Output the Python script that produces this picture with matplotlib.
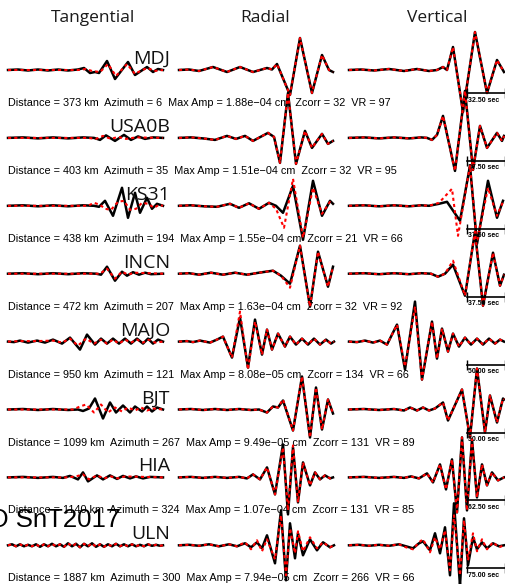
import matplotlib
matplotlib.use('Agg')
import matplotlib.pyplot as plt

# Station info (one entry per row)
stations = ['MDJ', 'USA0B', 'KS31', 'INCN', 'MAJO', 'BJT', 'HIA', 'ULN']
distance_km = [373, 403, 438, 472, 950, 1099, 1140, 1887]
azimuth = [6, 35, 194, 207, 121, 267, 324, 300]
max_amp = ['1.88e\u221204', '1.51e\u221204', '1.55e\u221204', '1.63e\u221204',
           '8.08e\u221205', '9.49e\u221205', '1.07e\u221204', '7.94e\u221205']
zcorr = [32, 32, 21, 32, 134, 131, 131, 266]
vr = [97, 95, 66, 92, 66, 89, 85, 66]
bar_sec = ['32.50', '37.50', '37.50', '37.50', '50.00', '50.00', '62.50', '75.00']
components = ['Tangential', 'Radial', 'Vertical']

# Waveforms: (time sample, amplitude).
mdj_t_obs = [(0, 0), (10, 0.5), (20, -0.5), (30, 0.5), (40, -0.5), (50, 0.5), (60, -0.5), (70, 0.5),
             (76, 2), (82, -3), (87, -2), (91, -3), (99, 9), (107, -9), (120, 8), (127, -5), (133, -1),
             (139, 3), (145, -2), (150, 1), (155, 0)]
mdj_t_syn = [(0, 0), (70, 0), (78, 1), (84, -1), (92, -2), (100, 6), (108, -6), (119, 6), (127, -4),
             (134, 0), (140, 2), (146, -1), (155, 0)]
mdj_r_obs = [(0, 0), (10, 0.5), (20, -1), (34, 3), (48, -2), (61, 3), (74, -2), (88, 2), (93, 0.5),
             (98, 6), (111, -25), (121, 32), (133, -23), (143, 15), (150, 0), (154, -2)]
mdj_r_syn = mdj_r_obs
mdj_v_obs = [(0, 0), (12, 0.5), (25, -0.5), (40, 1), (55, -1), (68, 1), (80, -1), (88, 0), (94, 3),
             (98, 0), (104, 23), (114, -42), (126, 38), (138, -23), (148, 10), (155, -2)]
mdj_v_syn = mdj_v_obs

usa_t_obs = [(0, 0), (15, 0.5), (30, -0.5), (45, 0.5), (60, -0.5), (75, 0.5), (86, 0), (92, -2),
             (98, 2.5), (107, -3), (116, 3), (123, -2), (130, 1.5), (137, -1), (145, 0.5), (155, 0)]
usa_t_syn = [(0, 0), (80, 0), (88, -1), (95, 2), (103, -1), (110, 1), (118, -1), (128, 0.5), (155, 0)]
usa_r_obs = [(0, 0), (12, 0.5), (24, -0.5), (36, -2), (48, 2), (57, -1), (66, 2), (74, -3), (89, 5),
             (95, 1), (101, -25), (109, 45), (117, -26), (126, 7), (133, -10), (143, 4), (149, -6),
             (154, -3)]
usa_r_syn = usa_r_obs
usa_v_obs = [(0, 0), (15, 0.5), (30, -0.5), (45, 0.5), (60, -0.5), (72, 0.5), (78, 0), (83, -2),
             (88, 3), (94, 22), (106, -33), (116, 47), (124, -32), (131, 12), (138, -10), (148, 5),
             (153, -3), (155, 2)]
usa_v_syn = usa_v_obs

ks_t_obs = [(0, 0), (15, 0.5), (30, -0.5), (45, 0.5), (60, -0.5), (75, 0.5), (86, 0), (91, -1),
            (97, 5), (105, -10), (114, 18), (120, -12), (127, 13), (132, -7), (139, 8), (144, -3),
            (149, 2), (155, 0)]
ks_t_syn = [(0, 0), (80, 0), (86, 3), (92, 1), (97, -3), (103, -4), (110, 4), (116, 5), (122, -4),
            (128, -3), (134, 3), (140, 2), (146, -2), (151, 1), (155, 0)]
ks_r_obs = [(0, 0), (12, 0.5), (25, -0.5), (38, -1), (51, 2), (60, -2), (70, 2.5), (80, -3), (90, 3),
            (97, 0), (104, -7), (114, 20), (124, -34), (134, 25), (143, -10), (151, 5), (154, 2)]
ks_r_syn = [(0, 0), (12, 0.5), (25, -0.5), (38, -1), (51, 2), (60, -2), (70, 2.5), (80, -3), (90, 3),
            (97, -3), (105, -22), (114, 27), (124, -32), (134, 18), (143, -8), (151, 4), (154, 2)]
ks_v_obs = [(0, 0), (15, 0.5), (30, -0.5), (45, 0.5), (60, -0.5), (72, 0.5), (80, 0), (90, 2),
            (98, 4), (111, -15), (121, 40), (128, -38), (139, 25), (148, -12), (154, 5)]
ks_v_syn = [(0, 0), (15, 0.5), (30, -0.5), (45, 0.5), (60, -0.5), (72, 0.5), (80, 0), (90, 3),
            (103, 17), (109, -30), (121, 40), (128, -36), (139, 18), (148, -10), (154, 4)]

incn_t_obs = [(0, 0), (15, 0.5), (30, -0.5), (45, 0.5), (60, -0.5), (75, 0.5), (88, 0), (93, -1),
              (99, 7), (107, -7), (114, 2), (119, -2), (125, 1.5), (131, -1), (137, 1), (143, -0.5),
              (155, 0)]
incn_t_syn = [(0, 0), (85, 0), (92, 0), (99, 5), (107, -5), (114, 2), (120, -1), (126, 1), (155, 0)]
incn_r_obs = [(0, 0), (10, 0.5), (20, -1), (32, 1), (44, -1), (56, 1), (68, -1), (80, 1), (94, 3),
              (102, -2), (111, -10), (121, 28), (131, -33), (139, 22), (149, -13), (154, 7)]
incn_r_syn = [(0, 0), (10, 0.5), (20, -1), (32, 1), (44, -1), (56, 1), (68, -1), (80, 1), (94, 3),
              (102, -2), (111, -14), (121, 28), (131, -33), (139, 22), (149, -13), (154, 7)]
incn_v_obs = [(0, 0), (15, 0.5), (30, -0.5), (45, 0.5), (60, -0.5), (72, 0.5), (82, 0), (89, -3),
              (96, 0), (104, 9), (116, -22), (126, 42), (134, -32), (144, 21), (151, -12), (155, -1)]
incn_v_syn = [(0, 0), (15, 0.5), (30, -0.5), (45, 0.5), (60, -0.5), (72, 0.5), (82, 0), (89, -3),
              (96, 0), (104, 13), (116, -22), (126, 42), (134, -32), (144, 21), (151, -12), (155, -1)]

majo_t_obs = [(0, 0), (6, -0.5), (12, 1), (20, -1), (29, 1), (37, -1), (45, 2), (54, -2), (62, 4),
              (72, -8), (79, 7), (87, -3), (93, 3), (99, -2), (105, 3), (111, -2), (117, 3), (123, -2),
              (129, 3), (135, -2), (140, 3), (145, -2), (150, 2), (155, 0)]
majo_t_syn = [(0, 0), (12, 0.5), (29, 0.5), (45, 1), (54, -1), (62, 3), (70, -4), (78, 3), (86, -2),
              (93, 2), (99, -2), (105, 2), (111, -2), (117, 2), (123, -1), (129, 2), (135, -1),
              (141, 2), (147, -1), (155, 0)]
majo_r_obs = [(0, 0), (8, 0.5), (14, -0.5), (21, 1), (31, -1), (38, 2), (44, 5), (53, -16), (61, 24),
              (69, -26), (76, 22), (83, -13), (88, 12), (93, -8), (99, 8), (106, -5), (111, 5),
              (117, -3), (123, 3), (129, -3), (135, 3), (141, -3), (147, 2), (152, -2), (155, 0)]
majo_r_syn = [(0, 0), (8, 0.5), (14, -0.5), (21, 1), (31, -1), (38, 2), (44, 5), (53, -16), (61, 30),
              (69, -28), (76, 20), (83, -13), (88, 12), (93, -8), (99, 8), (106, -5), (111, 5),
              (117, -3), (123, 3), (129, -3), (135, 3), (141, -3), (147, 2), (152, -2), (155, 0)]
majo_v_obs = [(0, 0), (8, -0.5), (16, 1), (24, -1), (31, 1), (38, -3), (48, 17), (56, -28), (66, 40),
              (73, -38), (83, 20), (88, -17), (93, 13), (99, -10), (104, 8), (110, -5), (116, 4),
              (122, -3), (128, 3), (134, -3), (140, 3), (146, -2), (151, 2), (155, 0)]
majo_v_syn = [(0, 0), (8, -0.5), (16, 1), (24, -1), (31, 1), (38, -3), (48, 17), (56, -25), (66, 35),
              (73, -38), (83, 20), (88, -17), (93, 13), (99, -10), (104, 8), (110, -5), (116, 4),
              (122, -3), (128, 3), (134, -3), (140, 3), (146, -2), (151, 2), (155, 0)]

bjt_t_obs = [(0, 0), (15, 0.5), (30, -0.5), (45, 0.5), (60, -0.5), (70, 0), (75, -1.5), (81, 1),
             (87, 11), (95, -9), (102, 7), (108, -3), (115, 4), (122, -3), (127, 3), (134, -2),
             (139, 3), (144, -2), (149, 2), (155, 0)]
bjt_t_syn = [(0, 0), (65, 0), (72, 3), (78, 5), (86, -3), (93, 5), (100, -3), (107, 2), (114, -2),
             (120, 2), (127, -1), (133, 2), (139, -1), (145, 1), (155, 0)]
bjt_r_obs = [(0, 0), (12, 0.5), (24, -0.5), (36, 0.5), (48, -0.5), (60, 0.5), (72, -0.5), (80, 0),
             (88, -3), (94, 3), (99, 2), (104, 9), (114, -21), (123, 33), (131, -28), (137, 22),
             (143, -20), (149, 10), (154, -4)]
bjt_r_syn = [(0, 0), (12, 0.5), (24, -0.5), (36, 0.5), (48, -0.5), (60, 0.5), (72, -0.5), (80, 0),
             (88, -3), (94, 3), (99, 2), (104, 10), (114, -21), (123, 33), (131, -28), (137, 22),
             (143, -20), (149, 10), (154, -4)]
bjt_v_obs = [(0, 0), (15, 0.5), (30, -0.5), (45, 0.5), (55, -1), (61, 2), (68, -1), (74, 2), (80, -1),
             (86, 1), (94, 7), (99, -11), (113, 20), (121, -28), (128, 41), (136, -23), (141, 14),
             (148, -13), (154, 11), (155, 10)]
bjt_v_syn = bjt_v_obs

hia_t_obs = [(0, 0), (15, 0.5), (30, -0.5), (45, 0.5), (55, -0.5), (62, 1.5), (70, -2), (75, 5),
             (80, -4), (89, 2), (95, -2), (102, 2), (109, -1.5), (115, 1.5), (122, -1), (128, 1),
             (135, -1), (142, 0.5), (155, 0)]
hia_t_syn = [(0, 0), (60, 0), (68, 1), (75, 3), (81, -2), (89, 2), (96, -1), (103, 1), (110, -1),
             (117, 1), (155, 0)]
hia_r_obs = [(0, 0), (12, 0.5), (24, -0.5), (36, 0.5), (48, -0.5), (60, 0.5), (68, -1), (74, 3),
             (81, -2), (88, 10), (96, -17), (104, 33), (109, -37), (114, 30), (119, -25), (124, 15),
             (131, -8), (136, 5), (141, -2), (146, 2), (151, -1), (154, 0)]
hia_r_syn = [(0, 0), (12, 0.5), (24, -0.5), (36, 0.5), (48, -0.5), (60, 0.5), (68, -1), (74, 3),
             (81, -2), (88, 10), (96, -17), (104, 30), (109, -33), (114, 32), (119, -25), (124, 15),
             (131, -8), (136, 5), (141, -2), (146, 2), (151, -1), (154, 0)]
hia_v_obs = [(0, 0), (15, 0.5), (30, -0.5), (45, 0.5), (55, -0.5), (62, 1), (70, -1), (78, 4),
             (84, -5), (91, 13), (97, -12), (103, 18), (108, -35), (113, 40), (118, -33), (123, 38),
             (128, -20), (133, 13), (138, -8), (143, 5), (149, -3), (155, 0)]
hia_v_syn = hia_v_obs

uln_t_obs = [(0, 0), (4, 1), (8, -1), (12, 1), (16, -1), (20, 0.5), (24, -1), (28, 1), (32, -1.5),
             (36, 1), (40, -1), (44, 1.5), (48, -1), (52, 1), (56, -1.5), (60, 2), (64, -1),
             (68, 1.5), (72, -2), (76, 1.5), (80, -1), (84, 2), (88, -1.5), (92, 1), (96, -1.5),
             (100, 1), (104, -1), (108, 1.5), (112, -1), (116, 1), (120, -1), (124, 1), (128, -1),
             (132, 0.5), (136, -1), (140, 1), (144, -0.5), (148, 0.5), (152, -0.5), (155, 0)]
uln_t_syn = uln_t_obs
uln_r_obs = [(0, 0), (10, 0.5), (20, -0.5), (30, 1), (40, -1), (50, 1), (58, -1), (66, 2), (72, -2),
             (78, 3), (83, -3), (88, 10), (96, -18), (102, 35), (107, -35), (111, 22), (116, -13),
             (119, 12), (124, -10), (131, 6), (138, -5), (144, 3), (151, -2), (155, 0)]
uln_r_syn = [(0, 0), (10, 0.5), (20, -0.5), (30, 1), (40, -1), (50, 1), (58, -1), (66, 3), (72, -4),
             (78, 5), (83, -6), (88, 6), (96, -14), (102, 30), (107, -30), (111, 17), (116, -8),
             (119, 14), (124, -6), (131, 8), (138, -3), (144, 3), (151, -2), (155, 0)]
uln_v_obs = [(0, 0), (10, 0.5), (20, -0.5), (30, 0.5), (40, -0.5), (50, 1), (57, -1), (64, -3),
             (70, 2), (74, 4), (81, -5), (86, 12), (91, -8), (96, 18), (101, -30), (105, 42),
             (111, -40), (115, 27), (119, -20), (124, 8), (128, -4), (133, 3), (138, -3), (144, 2),
             (150, -1), (155, 0)]
uln_v_syn = [(0, 0), (10, 0.5), (20, -0.5), (30, 0.5), (40, -0.5), (50, 1), (57, -2), (64, -4),
             (70, 3), (74, 6), (81, -7), (86, 8), (91, -4), (96, 15), (101, -25), (105, 30),
             (111, -30), (115, 25), (119, -15), (124, 12), (128, -6), (133, 6), (138, -4), (144, 3),
             (150, -2), (155, 0)]

observed = [
    [mdj_t_obs, mdj_r_obs, mdj_v_obs],
    [usa_t_obs, usa_r_obs, usa_v_obs],
    [ks_t_obs, ks_r_obs, ks_v_obs],
    [incn_t_obs, incn_r_obs, incn_v_obs],
    [majo_t_obs, majo_r_obs, majo_v_obs],
    [bjt_t_obs, bjt_r_obs, bjt_v_obs],
    [hia_t_obs, hia_r_obs, hia_v_obs],
    [uln_t_obs, uln_r_obs, uln_v_obs],
]
synthetic = [
    [mdj_t_syn, mdj_r_syn, mdj_v_syn],
    [usa_t_syn, usa_r_syn, usa_v_syn],
    [ks_t_syn, ks_r_syn, ks_v_syn],
    [incn_t_syn, incn_r_syn, incn_v_syn],
    [majo_t_syn, majo_r_syn, majo_v_syn],
    [bjt_t_syn, bjt_r_syn, bjt_v_syn],
    [hia_t_syn, hia_r_syn, hia_v_syn],
    [uln_t_syn, uln_r_syn, uln_v_syn],
]

# Layout (pixels)
W, H = 506, 584
col_x0 = [8, 179, 349]
trace_w = 155
half_h = 34
row0, row_step = 70, 67.9

fig = plt.figure(figsize=(W / 100, H / 100), dpi=100)

title_x = [93, 265, 437]
for name, tx in zip(components, title_x):
    fig.text(tx / W, 1 - 18 / H, name, ha='center', va='center', fontsize=12.5,
             family='Open Sans', color='#1a1a1a')

for r in range(len(stations)):
    yb = row0 + row_step * r
    axes = []
    for c in range(3):
        ax = fig.add_axes([col_x0[c] / W, 1 - (yb + half_h) / H, trace_w / W, 2 * half_h / H])
        ax.set_xlim(0, trace_w)
        ax.set_ylim(-half_h, half_h)
        ax.axis('off')
        t, a = zip(*observed[r][c])
        ax.plot(t, a, color='black', lw=1.8, clip_on=False, solid_joinstyle='round')
        ts, sa = zip(*synthetic[r][c])
        ax.plot(ts, sa, color='red', lw=1.5, ls=(0, (1.5, 1.5)), clip_on=False)
        axes.append(ax)

    # station name and info line
    axes[0].text(162, 11, stations[r], ha='right', va='center', fontsize=14,
                 family='Open Sans', color='#111111')
    info = (f'Distance = {distance_km[r]} km  Azimuth = {azimuth[r]}  '
            f'Max Amp = {max_amp[r]} cm  Zcorr = {zcorr[r]}  VR = {vr[r]}')
    axes[0].text(0, -33, info, ha='left', va='center', fontsize=7.8,
                 family='Liberation Sans', clip_on=False)

    # time scale bar on the vertical component
    axes[2].plot([118, 156], [-23, -23], color='black', lw=1.2, marker='|', ms=7,
                 clip_on=False)
    axes[2].text(119, -30, f'{bar_sec[r]} sec', ha='left', va='center', fontsize=5,
                 fontweight='bold', family='Liberation Sans', clip_on=False)

fig.text(120 / W, 1 - 527 / H, 'CTBTO SnT2017', ha='right', va='baseline', fontsize=18.5,
         family='Liberation Sans')

fig.savefig('out.png', dpi=100)
